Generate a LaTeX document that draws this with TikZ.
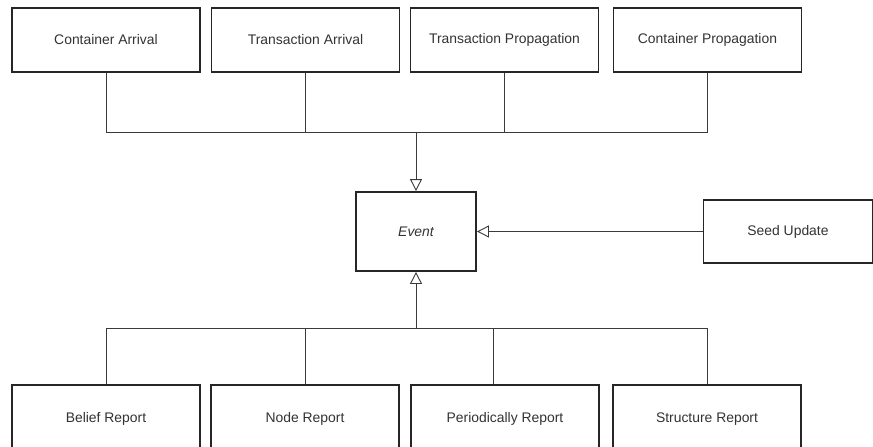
\documentclass[tikz,border=0pt]{standalone}
\usepackage{fontspec}
\setmainfont{Liberation Sans}
\usetikzlibrary{arrows.meta}
\definecolor{boxline}{HTML}{262626}
\definecolor{wire}{HTML}{3A3A3A}
\definecolor{label}{HTML}{333333}
\begin{document}
\begin{tikzpicture}[x=1pt,y=-1pt,
  classbox/.style={draw=boxline,line width=1.8pt,fill=white,text=label,
    font=\fontsize{13.9}{16}\selectfont},
  wireline/.style={draw=wire,line width=0.9pt},
  inherit/.style={wireline,-{Triangle[open,length=12pt,width=12pt,line width=0.9pt]}}]
\useasboundingbox (0,0) rectangle (873,447);

% abstract event class
\node[classbox,minimum width=120pt,minimum height=79pt,font=\fontsize{13.9}{16}\selectfont\itshape] (event) at (416,231.5) {Event};

% event kinds above
\node[classbox,minimum width=188pt,minimum height=64pt] (ca) at (106,40) {Container Arrival};
\node[classbox,minimum width=188pt,minimum height=64pt] (ta) at (305.5,40) {Transaction Arrival};
\node[classbox,minimum width=188pt,minimum height=64pt] (tp) at (504.5,40) {Transaction Propagation};
\node[classbox,minimum width=188pt,minimum height=64pt] (cp) at (707.5,40) {Container Propagation};

% seed update on the right
\node[classbox,minimum width=169pt,minimum height=63pt] (su) at (788,231.5) {Seed Update};

% report kinds below
\node[classbox,minimum width=188pt,minimum height=68pt] (br) at (106,419) {Belief Report};
\node[classbox,minimum width=188pt,minimum height=68pt] (nr) at (305,419) {Node Report};
\node[classbox,minimum width=188pt,minimum height=68pt] (pr) at (505,419) {Periodically Report};
\node[classbox,minimum width=188pt,minimum height=68pt] (sr) at (707,419) {Structure Report};

% bus junctions
\coordinate (topbus) at (416,132);
\coordinate (botbus) at (416,328);
\coordinate (prstem) at (493,328);

% upper hierarchy
\draw[wireline] (ca.south) |- (cp.south |- topbus) -- (cp.south);
\draw[wireline] (ta.south) -- (ta.south |- topbus);
\draw[wireline] (tp.south) -- (tp.south |- topbus);
\draw[inherit] (topbus) -- (event.north);

% seed update link
\draw[inherit] (su.west) -- (su.west -| event.east);

% lower hierarchy
\draw[wireline] (br.north) |- (sr.north |- botbus) -- (sr.north);
\draw[wireline] (nr.north) -- (nr.north |- botbus);
\draw[wireline] (prstem |- pr.north) -- (prstem);
\draw[inherit] (botbus) -- (event.south);
\end{tikzpicture}
\end{document}
